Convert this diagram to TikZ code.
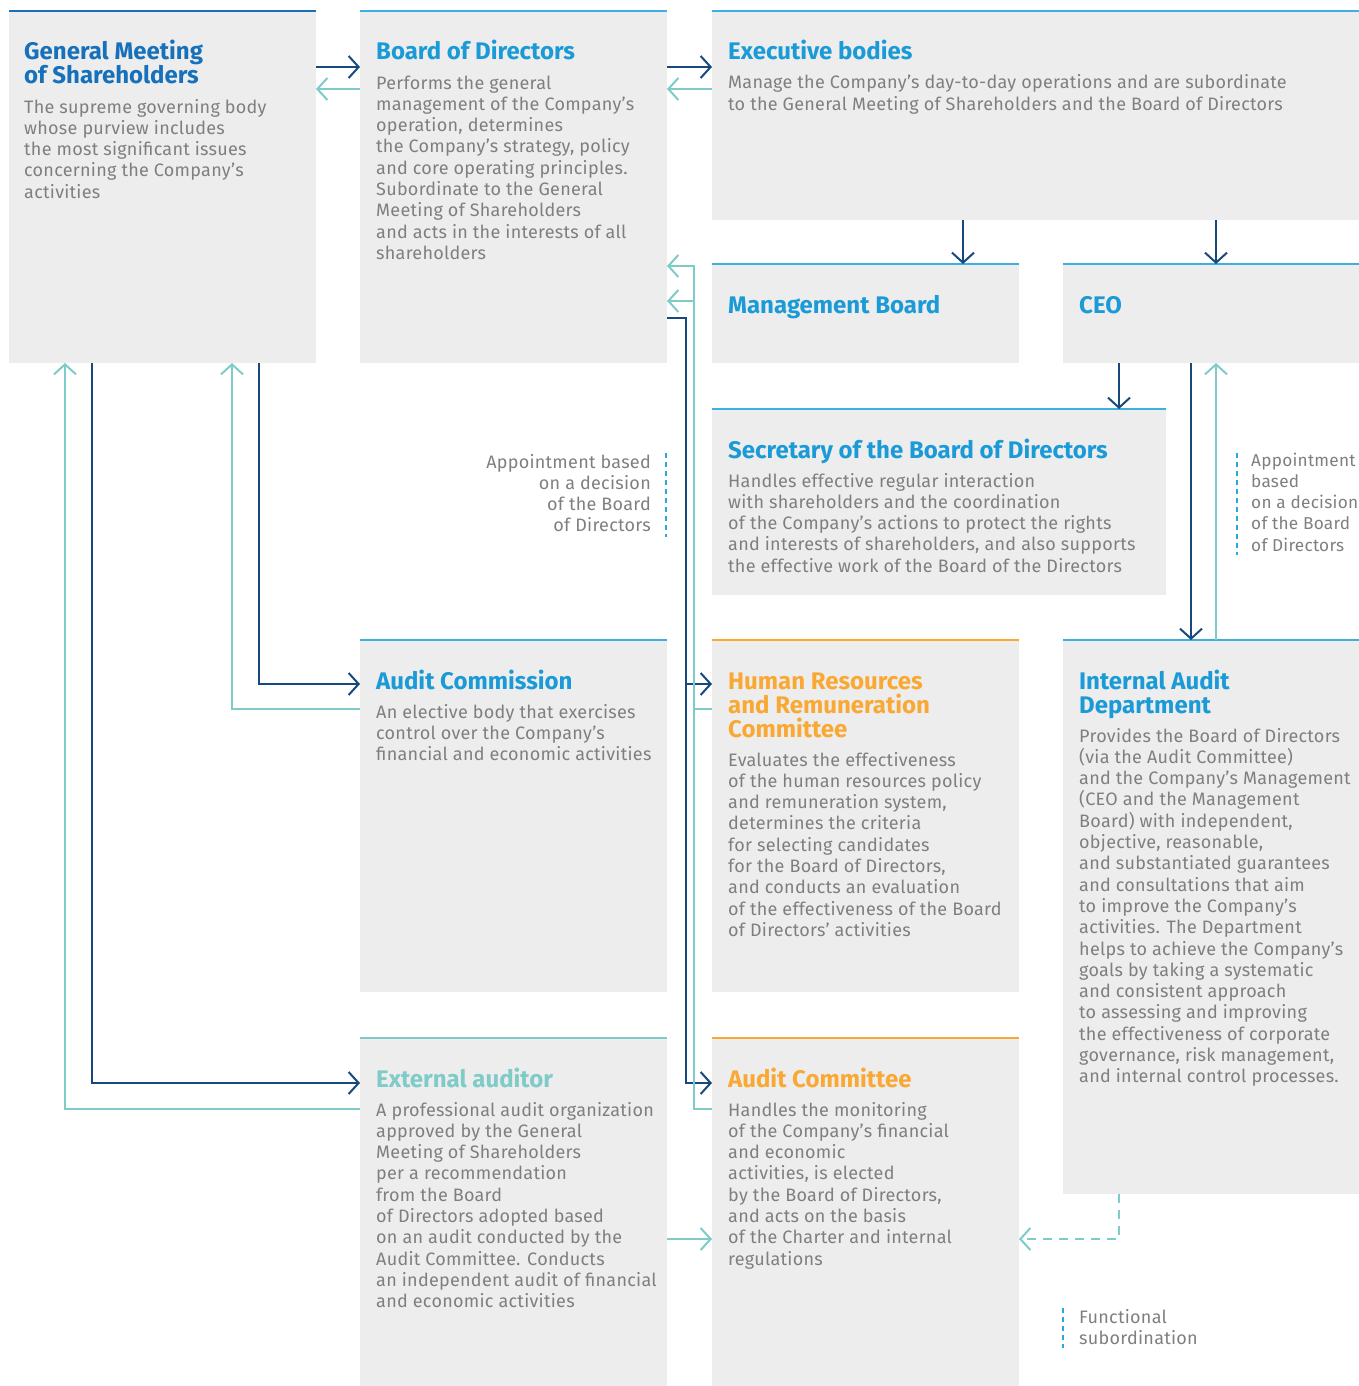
\documentclass[tikz,border=0pt]{standalone}
\usepackage{fontspec}
\setmainfont{Fira Sans}
\newfontfamily\bodyfont[LetterSpace=1.5]{Fira Sans}
\usetikzlibrary{arrows.meta,calc}
\definecolor{boxgray}{HTML}{EDEDED}
\definecolor{txtgray}{HTML}{7F7F7F}
\definecolor{navy}{HTML}{17497E}
\definecolor{tealc}{HTML}{7ECBC8}
\definecolor{tblue}{HTML}{1A9AD6}
\definecolor{tdblue}{HTML}{1670BA}
\definecolor{lblue}{HTML}{3FAEE0}
\definecolor{orng}{HTML}{F9A833}
\definecolor{mark}{HTML}{29A8E0}
\newcommand{\mkbox}[6]{%
  \node[boxsty, minimum width={#4-#2}, minimum height={#5-#3}] (#1) at (#2,#3) {};
  \draw[#6, line width=1.6pt] (#1.north west) -- (#1.north east);}
\begin{document}
\begin{tikzpicture}[x=1pt,y=-1pt,
  boxsty/.style={fill=boxgray, draw=none, anchor=north west, inner sep=0, outer sep=0},
  ttl/.style={anchor=base west, align=left, inner sep=0, font={\fontsize{24}{24}\selectfont\bfseries}},
  body/.style={anchor=base west, align=left, inner sep=0, text=txtgray, font={\bodyfont\fontsize{18}{21.3}\selectfont}},
  nv/.style={draw=navy, line width=2pt},
  tl/.style={draw=tealc, line width=2pt},
  arr/.style={-{Straight Barb[length=10pt,width=22pt]}},
  mk/.style={draw=mark, line width=1.6pt, dash pattern=on 5pt off 4pt}]
\useasboundingbox (0,0) rectangle (1359,1386);
% boxes
\mkbox{gms}{9}{11}{316}{363}{tdblue}
\mkbox{bod}{360}{11}{667}{363}{lblue}
\mkbox{exe}{712}{11}{1359}{220}{lblue}
\mkbox{mb}{712}{264}{1019}{363}{lblue}
\mkbox{ceo}{1063}{264}{1359}{363}{lblue}
\mkbox{sec}{712}{409}{1166}{595}{lblue}
\mkbox{acm}{360}{640}{667}{992}{lblue}
\mkbox{hr}{712}{640}{1019}{992}{orng}
\mkbox{ia}{1063}{640}{1359}{1194}{lblue}
\mkbox{ext}{360}{1038}{667}{1386}{tealc}
\mkbox{ac}{712}{1038}{1019}{1386}{orng}
% texts (anchored at the baseline of the last line)
\node[ttl, text=tdblue] (gmsT) at (24,84) {General Meeting\\of Shareholders};
\node[body] (gmsB) at (24,198.2) {The supreme governing body\\whose purview includes\\the most significant issues\\concerning the Company’s\\activities};
\node[ttl, text=tblue] (bodT) at (376,60) {Board of Directors};
\node[body] (bodB) at (376,259.4) {Performs the general\\management of the Company’s\\operation, determines\\the Company’s strategy, policy\\and core operating principles.\\Subordinate to the General\\Meeting of Shareholders\\and acts in the interests of all\\shareholders};
\node[ttl, text=tblue] (exeT) at (728,60) {Executive bodies};
\node[body] (exeB) at (728,110.3) {Manage the Company’s day-to-day operations and are subordinate\\to the General Meeting of Shareholders and the Board of Directors};
\node[ttl, text=tblue] (mbT) at (728,313) {Management Board};
\node[ttl, text=tblue] (ceoT) at (1079,313) {CEO};
\node[ttl, text=tblue] (secT) at (728,458) {Secretary of the Board of Directors};
\node[body] (secB) at (728,572.2) {Handles effective regular interaction\\with shareholders and the coordination\\of the Company’s actions to protect the rights\\and interests of shareholders, and also supports\\the effective work of the Board of the Directors};
\node[ttl, text=tblue] (acmT) at (376,689) {Audit Commission};
\node[body] (acmB) at (376,760.6) {An elective body that exercises\\control over the Company’s\\financial and economic activities};
\node[ttl, text=orng] (hrT) at (728,737) {Human Resources\\and Remuneration\\Committee};
\node[body] (hrB) at (728,936.4) {Evaluates the effectiveness\\of the human resources policy\\and remuneration system,\\determines the criteria\\for selecting candidates\\for the Board of Directors,\\and conducts an evaluation\\of the effectiveness of the Board\\of Directors’ activities};
\node[ttl, text=tblue] (iaT) at (1079,713) {Internal Audit\\Department};
\node[body] (iaB) at (1079,1082.8) {Provides the Board of Directors\\(via the Audit Committee)\\and the Company’s Management\\(CEO and the Management\\Board) with independent,\\objective, reasonable,\\and substantiated guarantees\\and consultations that aim\\to improve the Company’s\\activities. The Department\\helps to achieve the Company’s\\goals by taking a systematic\\and consistent approach\\to assessing and improving\\the effectiveness of corporate\\governance, risk management,\\and internal control processes.};
\node[ttl, text=tealc] (extT) at (376,1087) {External auditor};
\node[body] (extB) at (376,1307.7) {A professional audit organization\\approved by the General\\Meeting of Shareholders\\per a recommendation\\from the Board\\of Directors adopted based\\on an audit conducted by the\\Audit Committee. Conducts\\an independent audit of financial\\and economic activities};
\node[ttl, text=orng] (acT) at (728,1087) {Audit Committee};
\node[body] (acB) at (728,1265.1) {Handles the monitoring\\of the Company’s financial\\and economic\\activities, is elected\\by the Board of Directors,\\and acts on the basis\\of the Charter and internal\\regulations};
% side labels
\node[body, anchor=base east, align=right] (lab1) at (651,531.9) {Appointment based\\on a decision\\of the Board\\of Directors};
\draw[mk] (666,453) -- (666,537);
\node[body, font={\bodyfont\fontsize{17.2}{21.3}\selectfont}] (lab2) at (1251,551.2) {Appointment\\based\\on a decision\\of the Board\\of Directors};
\draw[mk] (1237,453) -- (1237,555);
\node[body] (lab3) at (1079,1344.3) {Functional\\subordination};
\draw[mk] (1063,1308) -- (1063,1348);
% connectors
\draw[nv,arr] (gms.east |- 0,67) -- (bod.west |- 0,67);
\draw[tl,arr] (bod.west |- 0,89) -- (gms.east |- 0,89);
\draw[nv,arr] (bod.east |- 0,67) -- (exe.west |- 0,67);
\draw[tl,arr] (exe.west |- 0,89) -- (bod.east |- 0,89);
\draw[nv,arr] (exe.south -| 963,0) -- (mb.north -| 963,0);
\draw[nv,arr] (exe.south -| 1216,0) -- (ceo.north -| 1216,0);
\draw[nv,arr] (ceo.south -| 1119,0) -- (sec.north -| 1119,0);
\draw[nv,arr] (ceo.south -| 1191,0) -- (ia.north -| 1191,0);
\draw[tl,arr] (ia.north -| 1216,0) -- (ceo.south -| 1216,0);
% board to committees
\coordinate (j1) at (686,684);
\draw[nv,arr] (bod.east |- 0,318) -| (j1) -- (hr.west |- j1);
\draw[nv,arr] (j1) |- (ac.west |- 0,1083);
\draw[tl,arr] (hr.west |- 0,709) -| (694,301) -- (bod.east |- 0,301);
\draw[tl,arr] (ac.west |- 0,1109) -| (694,266) -- (bod.east |- 0,266);
% GMS to audit commission and external auditor
\draw[nv,arr] (gms.south -| 259,0) |- (acm.west |- 0,684);
\draw[tl,arr] (acm.west |- 0,709) -| (gms.south -| 232,0);
\draw[nv,arr] (gms.south -| 92,0) |- (ext.west |- 0,1083);
\draw[tl,arr] (ext.west |- 0,1109) -| (gms.south -| 65,0);
% to audit committee
\draw[tl,arr] (ext.east |- 0,1239) -- (ac.west |- 0,1239);
\draw[tl,arr,dash pattern=on 9pt off 7pt] (ia.south -| 1119,0) |- (ac.east |- 0,1239);
\end{tikzpicture}
\end{document}
